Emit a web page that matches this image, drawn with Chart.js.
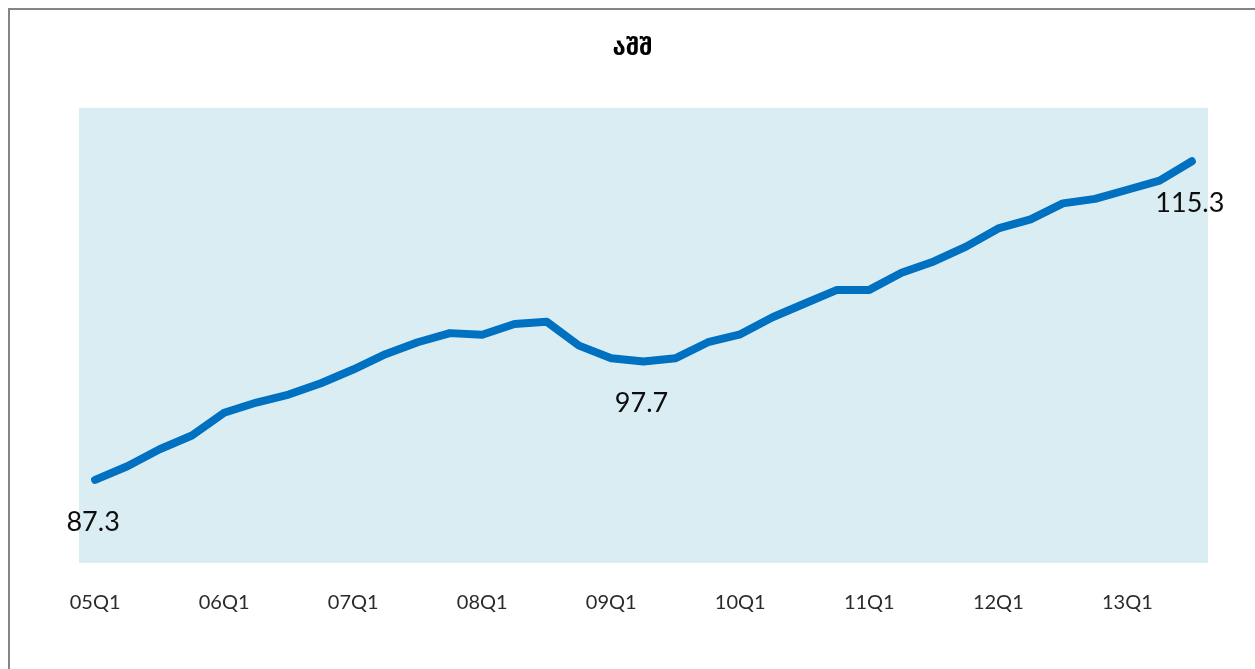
<!DOCTYPE html>
<html>
<head>
<meta charset="utf-8">
<script src="https://cdn.jsdelivr.net/npm/chart.js@4/dist/chart.umd.min.js"></script>
<style>
  html, body { margin: 0; padding: 0; background: #ffffff; overflow: hidden; }
  #wrap { position: relative; width: 1255px; height: 669px; }
  #frame {
    position: absolute; left: 8px; top: 8px; width: 1400px; height: 800px;
    border-left: 2px solid #858585; border-top: 2px solid #858585;
  }
  #c { position: absolute; left: 0; top: 0; }
</style>
</head>
<body>
<div id="wrap">
  <div id="frame"></div>
  <canvas id="c" width="1255" height="669"></canvas>
</div>
<script>
// Quarterly index, 2005 Q1 – 2013 Q3
const quarters = [
  '05Q1','05Q2','05Q3','05Q4',
  '06Q1','06Q2','06Q3','06Q4',
  '07Q1','07Q2','07Q3','07Q4',
  '08Q1','08Q2','08Q3','08Q4',
  '09Q1','09Q2','09Q3','09Q4',
  '10Q1','10Q2','10Q3','10Q4',
  '11Q1','11Q2','11Q3','11Q4',
  '12Q1','12Q2','12Q3','12Q4',
  '13Q1','13Q2','13Q3'
];
const usaIndex = [
  87.3, 88.5, 90.0, 91.2,
  93.2, 94.1, 94.8, 95.8,
  97.0, 98.35, 99.4, 100.2,
  100.05, 101.0, 101.2, 99.1,
  98.0, 97.7, 98.0, 99.4,
  100.1, 101.6, 102.8, 104.0,
  104.0, 105.5, 106.5, 107.8,
  109.4, 110.2, 111.6, 112.0,
  112.8, 113.6, 115.3
];
// points that carry a value label
const labelledPoints = [0, 17, 34];
const chartTitle = 'აშშ';

// light blue plot area behind the line
const plotBackground = {
  id: 'plotBackground',
  beforeDraw(chart) {
    const { ctx, chartArea: a } = chart;
    ctx.save();
    ctx.fillStyle = '#daedf3';
    ctx.fillRect(a.left, a.top, a.right - a.left, a.bottom - a.top);
    ctx.restore();
  }
};

// value labels under the selected points
const valueLabels = {
  id: 'valueLabels',
  afterDatasetsDraw(chart) {
    const { ctx } = chart;
    const meta = chart.getDatasetMeta(0);
    ctx.save();
    ctx.font = '27px Lato';
    ctx.fillStyle = '#0d0d0d';
    ctx.textAlign = 'center';
    ctx.textBaseline = 'middle';
    labelledPoints.forEach(i => {
      const pt = meta.data[i];
      ctx.fillText(usaIndex[i].toFixed(1), pt.x - 2, pt.y + 42);
    });
    ctx.restore();
  }
};

new Chart(document.getElementById('c'), {
  type: 'line',
  data: {
    labels: quarters,
    datasets: [{
      data: usaIndex,
      borderColor: '#0070c0',
      borderWidth: 8,
      borderCapStyle: 'round',
      borderJoinStyle: 'round',
      tension: 0,
      pointRadius: 0,
      pointHoverRadius: 0,
      fill: false
    }]
  },
  options: {
    responsive: false,
    animation: false,
    events: [],
    layout: { padding: { left: 57, right: 47, top: 0, bottom: 56 } },
    plugins: {
      legend: { display: false },
      tooltip: { enabled: false },
      title: {
        display: true,
        text: chartTitle,
        font: { family: 'DejaVu Sans', size: 24, weight: 'bold' },
        color: '#000000',
        padding: { top: 34, bottom: 45 }
      }
    },
    scales: {
      x: {
        offset: true,
        grid: { display: false, drawTicks: false },
        border: { display: false },
        ticks: {
          autoSkip: false,
          maxRotation: 0,
          minRotation: 0,
          padding: 28,
          color: '#2b2b2b',
          font: { family: 'Lato', size: 20 },
          callback: (v, i) => (i % 4 === 0 ? quarters[i] : null)
        },
        afterFit(axis) { axis.height = 50; }
      },
      y: {
        display: true,
        min: 80,
        max: 120,
        grid: { display: false, drawTicks: false },
        border: { display: false },
        ticks: { display: false },
        afterFit(axis) { axis.width = 22; }
      }
    }
  },
  plugins: [plotBackground, valueLabels]
});
</script>
</body>
</html>
